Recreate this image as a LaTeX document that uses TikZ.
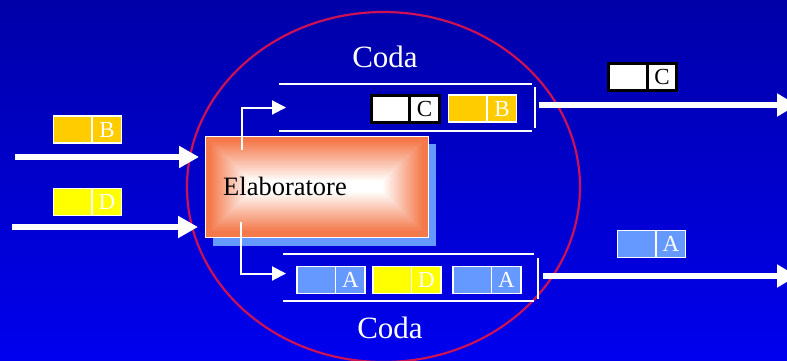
\documentclass[tikz,border=0pt]{standalone}
\usepackage{fontspec}
\setmainfont{Liberation Serif}
\usetikzlibrary{arrows.meta,calc}
\definecolor{bgtop}{HTML}{0000A8}
\definecolor{bgbot}{HTML}{0000EE}
\definecolor{ring}{HTML}{CC1155}
\definecolor{elabor}{HTML}{F47A4C}
\definecolor{shadowc}{HTML}{6699FF}
\definecolor{gold}{HTML}{FFCC00}
\definecolor{yel}{HTML}{FFFF00}
\definecolor{ablue}{HTML}{6699FF}
\tikzset{
 bigarrow/.style={white, line width=5.5pt, -{Triangle[length=20pt,width=21pt]}},
 smallarrow/.style={white, line width=2pt, -{Triangle[length=14pt,width=14pt]}},
 qline/.style={white, line width=2pt},
 elembox/.style={line width=1.8pt, minimum width=68pt, minimum height=27pt, inner sep=0pt, outer sep=0pt},
 elemtext/.style={font=\fontsize{23}{23}\selectfont, inner sep=0pt},
 codatext/.style={font=\fontsize{31}{31}\selectfont, text=white, inner sep=0pt},
 queue/.style={minimum height=47pt, inner sep=0pt, outer sep=0pt},
}
% name, x, y, fill, letter, letter colour, border colour, border width
\newcommand\qelem[8]{%
 \node[elembox, fill=#4, draw=#7, line width=#8] (#1) at (#2,#3) {};
 \draw[#7, line width=#8] ($(#1.north)+(4.5,0)$) -- ($(#1.south)+(4.5,0)$);
 \node[elemtext, text=#6] (#1l) at ($(#1.center)+(19.5,0)$) {#5};
}
\begin{document}
\begin{tikzpicture}[x=1pt,y=-1pt]
\useasboundingbox (0,0) rectangle (787,360);
\shade[top color=bgtop, bottom color=bgbot] (0,0) rectangle (787,360);
% ring
\draw[ring, line width=2.2pt] (383.5,187) ellipse [x radius=196.5, y radius=175];
% elaboratore
\fill[shadowc] (213,144) rectangle (436,246);
\node[minimum width=223pt, minimum height=101pt, inner sep=0pt, outer sep=0pt] (elab) at (316.5,186.5) {};
\foreach \i in {0,...,49}{
  \pgfmathsetmacro\d{50.5*\i/50}
  \pgfmathsetmacro\p{max(0,min(100,(1-\i/50-0.1)*125))}
  \fill[elabor!\p!white] ($(elab.north west)+(\d,\d)$) rectangle ($(elab.south east)+(-\d,-\d)$);
}
\draw[white, line width=1pt] (elab.north west) rectangle (elab.south east);
\node[anchor=west, font=\fontsize{26.5}{26.5}\selectfont, inner sep=0pt] (elabt) at (223,186) {Elaboratore};
% queues
\node[queue, minimum width=253pt] (qtop) at (405.5,107.5) {};
\draw[qline] (qtop.north west) -- (qtop.north east);
\draw[qline] (qtop.south west) -- (qtop.south east);
\draw[qline] ($(qtop.north east)+(3,3)$) -- ($(qtop.south east)+(3,-3)$);
\node[queue, minimum width=251pt] (qbot) at (408.5,277.5) {};
\draw[qline] (qbot.north west) -- (qbot.north east);
\draw[qline] (qbot.south west) -- (qbot.south east);
\draw[qline] ($(qbot.north east)+(4,4)$) -- ($(qbot.south east)+(4,-2)$);
\node[codatext] (codat) at (385,57) {Coda};
\node[codatext] (codab) at (390,328) {Coda};
% elements
\qelem{inB}{87.5}{129.5}{gold}{B}{white}{white}{1.8pt}
\qelem{inD}{87.5}{202}{yel}{D}{white}{white}{1.8pt}
\qelem{tC}{405}{108.5}{white}{C}{black}{black}{3pt}
\qelem{tB}{482.5}{108.5}{gold}{B}{white}{white}{1.8pt}
\qelem{outC}{642.5}{76.5}{white}{C}{black}{black}{3pt}
\qelem{bA}{331}{280}{ablue}{A}{white}{white}{1.8pt}
\qelem{bD}{407}{280}{yel}{D}{white}{white}{1.8pt}
\qelem{bA2}{487}{280}{ablue}{A}{white}{white}{1.8pt}
\qelem{outA}{651.5}{244}{ablue}{A}{white}{white}{1.8pt}
% input arrows
\coordinate (i1) at (15,157);
\coordinate (i2) at (12,227);
\draw[bigarrow, shorten >=6pt] (i1) -- (i1 -| elab.west);
\draw[bigarrow, shorten >=7pt] (i2) -- (i2 -| elab.west);
% elaboratore to queues
\coordinate (ot) at (242,150);
\coordinate (ob) at (241,222);
\draw[smallarrow] (ot) |- ($(qtop.west)+(7,0)$);
\draw[smallarrow] (ob) |- ($(qbot.west)+(3,-4)$);
% output arrows
\coordinate (o1) at (797,105);
\coordinate (o2) at (797,276);
\draw[bigarrow, -{Triangle[length=20pt,width=22pt]}] ($(qtop.east)+(7,-2.5)$) -- (o1);
\draw[bigarrow, -{Triangle[length=20pt,width=22pt]}] ($(qbot.east)+(9,-1.5)$) -- (o2);
\end{tikzpicture}
\end{document}
